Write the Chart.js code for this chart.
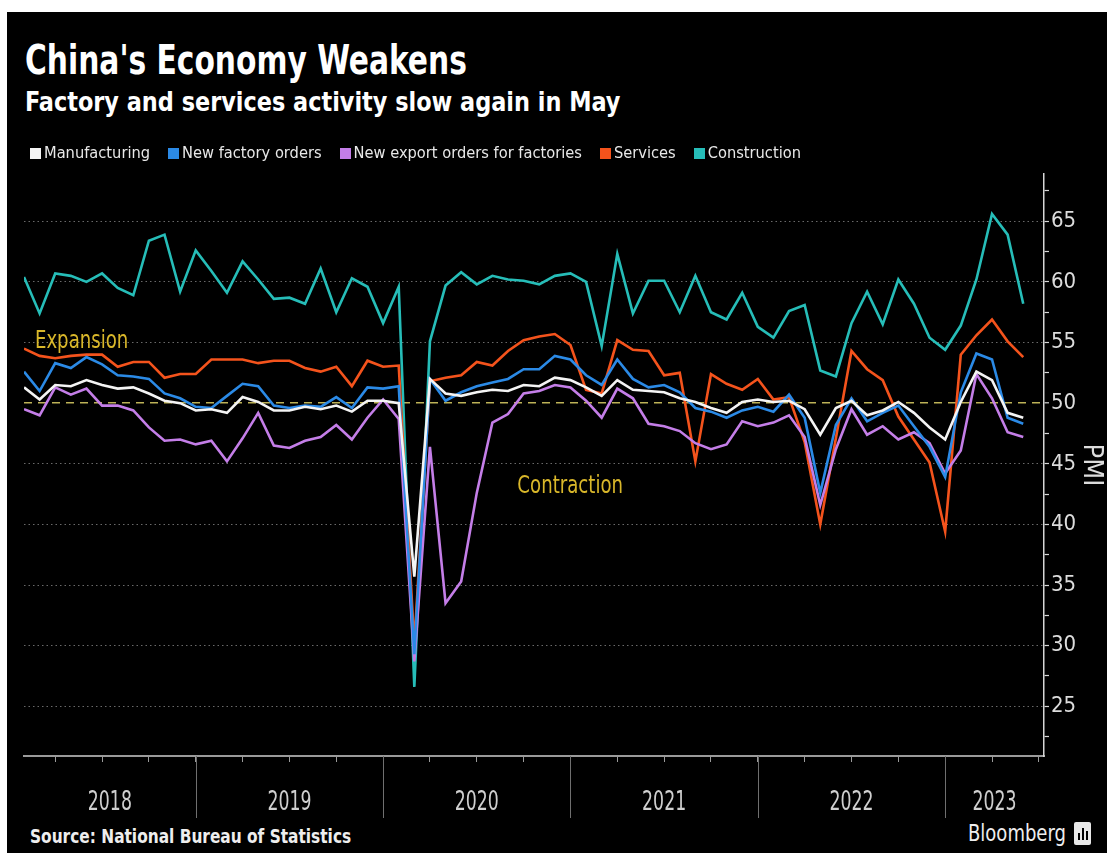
<!DOCTYPE html>
<html>
<head>
<meta charset="utf-8">
<script src="https://cdn.jsdelivr.net/npm/chart.js@4.4.0/dist/chart.umd.min.js"></script>
<style>
  html, body { margin: 0; padding: 0; background: #fff; }
  body { width: 1107px; height: 862px; position: relative; overflow: hidden;
         font-family: "DejaVu Sans Condensed", "DejaVu Sans", sans-serif; }
  #panel { position: absolute; left: 7px; top: 12px; right: 0; bottom: 9px; background: #000; }
  .txt { position: absolute; white-space: nowrap; color: #fff; transform-origin: 0 50%; }
  #title { left: 25px; top: 38px; font-size: 40px; line-height: 44px; font-weight: bold; transform: scaleX(0.826); }
  #subtitle { left: 25px; top: 86px; font-size: 27px; line-height: 32px; font-weight: bold; transform: scaleX(0.922); }
  #source { left: 30px; top: 824px; font-size: 19px; line-height: 24px; font-weight: bold; color: #eee; transform: scaleX(0.9); }
  #brand { left: 968px; top: 819px; font-size: 23px; line-height: 28px; color: #eee; transform: scaleX(0.87); }
  #logo { position: absolute; left: 1074px; top: 822px; width: 17px; height: 23px; background: #e8e8e8; border-radius: 2px; }
  #logo i { position: absolute; bottom: 5px; width: 2px; background: #000; }
  #legend { position: absolute; left: 30px; top: 141px; height: 24px; display: flex; align-items: center; gap: 18px;
            margin: 0; padding: 0; list-style: none; }
  #legend li { display: flex; align-items: center; gap: 3px; font-size: 16.3px; line-height: 24px; color: #e8e8e8; white-space: nowrap; }
  #legend span.box { display: inline-block; width: 11px; height: 11px; }
  #chart { position: absolute; left: 7px; top: 138px; }
</style>
</head>
<body>
<div id="panel"></div>
<div id="title" class="txt">China's Economy Weakens</div>
<div id="subtitle" class="txt">Factory and services activity slow again in May</div>
<canvas id="chart" width="1100" height="680"></canvas>
<ul id="legend"></ul>
<div id="source" class="txt">Source: National Bureau of Statistics</div>
<div id="brand" class="txt">Bloomberg</div>
<div id="logo"><i style="left:4px;height:7px"></i><i style="left:8px;height:12px"></i><i style="left:12px;height:9px"></i></div>
<script>
// Official PMI readings, monthly, January 2018 through May 2023
const years = ['2018', '2019', '2020', '2021', '2022', '2023'];

const manufacturing = [
  51.3, 50.3, 51.5, 51.4, 51.9, 51.5, 51.2, 51.3, 50.8, 50.2, 50.0, 49.4,
  49.5, 49.2, 50.5, 50.1, 49.4, 49.4, 49.7, 49.5, 49.8, 49.3, 50.2, 50.2,
  50.0, 35.7, 52.0, 50.8, 50.6, 50.9, 51.1, 51.0, 51.5, 51.4, 52.1, 51.9,
  51.3, 50.6, 51.9, 51.1, 51.0, 50.9, 50.4, 50.1, 49.6, 49.2, 50.1, 50.3,
  50.1, 50.2, 49.5, 47.4, 49.6, 50.2, 49.0, 49.4, 50.1, 49.2, 48.0, 47.0,
  50.1, 52.6, 51.9, 49.2, 48.8
];
const newFactoryOrders = [
  52.6, 51.0, 53.3, 52.9, 53.8, 53.2, 52.3, 52.2, 52.0, 50.8, 50.4, 49.7,
  49.6, 50.6, 51.6, 51.4, 49.8, 49.6, 49.8, 49.7, 50.5, 49.6, 51.3, 51.2,
  51.4, 29.3, 52.0, 50.2, 50.9, 51.4, 51.7, 52.0, 52.8, 52.8, 53.9, 53.6,
  52.3, 51.5, 53.6, 52.0, 51.3, 51.5, 50.9, 49.6, 49.3, 48.8, 49.4, 49.7,
  49.3, 50.7, 48.8, 42.6, 48.2, 50.4, 48.5, 49.2, 49.8, 48.1, 46.4, 43.9,
  50.9, 54.1, 53.6, 48.8, 48.3
];
const newExportOrders = [
  49.5, 49.0, 51.3, 50.7, 51.2, 49.8, 49.8, 49.4, 48.0, 46.9, 47.0, 46.6,
  46.9, 45.2, 47.1, 49.2, 46.5, 46.3, 46.9, 47.2, 48.2, 47.0, 48.8, 50.3,
  48.7, 28.7, 46.4, 33.5, 35.3, 42.6, 48.4, 49.1, 50.8, 51.0, 51.5, 51.3,
  50.2, 48.8, 51.2, 50.4, 48.3, 48.1, 47.7, 46.7, 46.2, 46.6, 48.5, 48.1,
  48.4, 49.0, 47.2, 41.6, 46.2, 49.5, 47.4, 48.1, 47.0, 47.6, 46.7, 44.2,
  46.1, 52.4, 50.4, 47.6, 47.2
];
const services = [
  54.5, 53.9, 53.7, 53.9, 54.0, 54.0, 53.0, 53.4, 53.4, 52.1, 52.4, 52.4,
  53.6, 53.6, 53.6, 53.3, 53.5, 53.5, 52.9, 52.6, 53.0, 51.4, 53.5, 53.0,
  53.1, 30.1, 51.8, 52.1, 52.3, 53.4, 53.1, 54.3, 55.2, 55.5, 55.7, 54.8,
  51.1, 50.8, 55.2, 54.4, 54.3, 52.3, 52.5, 45.2, 52.4, 51.6, 51.1, 52.0,
  50.3, 50.5, 46.8, 40.0, 47.1, 54.3, 52.8, 51.9, 48.9, 47.0, 45.1, 39.4,
  54.0, 55.6, 56.9, 55.1, 53.8
];
const construction = [
  60.4, 57.4, 60.7, 60.5, 60.0, 60.7, 59.5, 58.9, 63.4, 63.9, 59.2, 62.6,
  60.9, 59.1, 61.7, 60.2, 58.6, 58.7, 58.2, 61.1, 57.5, 60.3, 59.6, 56.6,
  59.6, 26.6, 55.1, 59.7, 60.8, 59.8, 60.5, 60.2, 60.1, 59.8, 60.5, 60.7,
  60.0, 54.7, 62.3, 57.4, 60.1, 60.1, 57.5, 60.5, 57.5, 56.9, 59.1, 56.3,
  55.4, 57.6, 58.1, 52.7, 52.2, 56.6, 59.2, 56.5, 60.2, 58.2, 55.4, 54.4,
  56.4, 60.2, 65.6, 63.9, 58.2
];

const seriesNames = ['Manufacturing', 'New factory orders', 'New export orders for factories', 'Services', 'Construction'];
const seriesColors = ['#f4f4f4', '#2b8ae6', '#c47ee8', '#f4531c', '#26bdb8'];
const seriesValues = [manufacturing, newFactoryOrders, newExportOrders, services, construction];

// PMI axis: labelled every 5 points, small marks in between
const pmiTicks = [22.5, 25, 27.5, 30, 32.5, 35, 37.5, 40, 42.5, 45, 47.5, 50, 52.5, 55, 57.5, 60, 62.5, 65, 67.5];
const threshold = 50;

// Time axis measured in months from 1 Jan 2018; each reading sits at its month end
const firstMonthEnd = 1;
const axisEnd = 66.33;
const quarterTicks = [];
for (let q = 3; q <= 66; q += 3) quarterTicks.push(q);
const yearStarts = years.map((_, k) => k * 12);

const zoneLabels = [
  { text: 'Expansion', x: 1.7, y: 55.1 },
  { text: 'Contraction', x: 32.6, y: 43.1 }
];

const FONT = '"DejaVu Sans Condensed", "DejaVu Sans", sans-serif';
Chart.defaults.font.family = FONT;
Chart.defaults.color = '#dddddd';

const datasets = seriesValues.map((vals, s) => ({
  label: seriesNames[s],
  data: vals.map((v, i) => ({ x: firstMonthEnd + i, y: v })),
  borderColor: seriesColors[s],
  backgroundColor: seriesColors[s],
  borderWidth: 2.6,
  pointRadius: 0,
  tension: 0,
  borderJoinStyle: 'miter'
}));

// Legend rendered as an HTML list from the chart's own legend items
const htmlLegend = {
  id: 'htmlLegend',
  afterUpdate(chart) {
    const list = document.getElementById('legend');
    list.innerHTML = '';
    chart.options.plugins.legend.labels.generateLabels(chart).forEach(item => {
      const li = document.createElement('li');
      const box = document.createElement('span');
      box.className = 'box';
      box.style.background = item.fillStyle;
      const label = document.createElement('span');
      label.textContent = item.text;
      li.appendChild(box);
      li.appendChild(label);
      list.appendChild(li);
    });
  }
};

// Draw text squeezed horizontally, like a condensed face
function condensedText(ctx, text, x, y, squeeze) {
  ctx.save();
  ctx.translate(x, y);
  ctx.scale(squeeze, 1);
  ctx.fillText(text, 0, 0);
  ctx.restore();
}

// Year bands under the time axis: separators and centred year names
const yearBands = {
  id: 'yearBands',
  afterDraw(chart) {
    const { ctx, chartArea, scales: { x } } = chart;
    const base = chartArea.bottom;
    ctx.save();
    ctx.strokeStyle = '#6f6f6f';
    ctx.lineWidth = 1;
    yearStarts.forEach(m => {
      if (m <= x.min || m >= x.max) return;
      const px = Math.round(x.getPixelForValue(m)) + 0.5;
      ctx.beginPath();
      ctx.moveTo(px, base);
      ctx.lineTo(px, base + 62);
      ctx.stroke();
    });
    ctx.fillStyle = '#cfcfcf';
    ctx.font = '26px ' + FONT;
    ctx.textAlign = 'center';
    ctx.textBaseline = 'middle';
    years.forEach((label, k) => {
      const a = Math.max(yearStarts[k], x.min);
      const b = Math.min(yearStarts[k] + 12, x.max);
      condensedText(ctx, label, (x.getPixelForValue(a) + x.getPixelForValue(b)) / 2, base + 47, 0.74);
    });
    ctx.restore();
  }
};

// Expansion / contraction captions placed in data space
const zoneText = {
  id: 'zoneText',
  afterDatasetsDraw(chart) {
    const { ctx, scales: { x, y } } = chart;
    ctx.save();
    ctx.fillStyle = '#d9b72a';
    ctx.font = '24px ' + FONT;
    ctx.textAlign = 'left';
    ctx.textBaseline = 'middle';
    zoneLabels.forEach(z => condensedText(ctx, z.text, x.getPixelForValue(z.x), y.getPixelForValue(z.y), 0.84));
    ctx.restore();
  }
};

new Chart(document.getElementById('chart'), {
  type: 'line',
  data: { datasets },
  plugins: [htmlLegend, yearBands, zoneText],
  options: {
    responsive: false,
    animation: false,
    events: [],
    layout: { padding: { left: 17, right: 0, top: 36, bottom: 0 } },
    plugins: {
      legend: { display: false },
      tooltip: { enabled: false }
    },
    scales: {
      x: {
        type: 'linear',
        min: firstMonthEnd,
        max: axisEnd,
        afterBuildTicks: s => { s.ticks = quarterTicks.map(v => ({ value: v })); },
        afterFit: s => { s.height = 62; },
        ticks: { display: false },
        grid: { drawOnChartArea: false, drawTicks: true, tickLength: 6, tickColor: '#9a9a9a', tickWidth: 1 },
        border: { display: true, color: '#9a9a9a', width: 2 }
      },
      y: {
        position: 'right',
        min: 20.9,
        max: 68.9,
        afterBuildTicks: s => { s.ticks = pmiTicks.map(v => ({ value: v })); },
        afterFit: s => { s.width = 63; },
        ticks: {
          autoSkip: false,
          padding: 2,
          color: '#dcdcdc',
          font: { size: 22 },
          callback: v => (v % 5 === 0 ? String(v) : '')
        },
        grid: {
          drawOnChartArea: true,
          color: c => {
            const v = c.tick ? c.tick.value : null;
            if (v === threshold) return '#bdb257';
            return v !== null && v % 5 === 0 ? 'rgba(150,150,150,0.7)' : 'rgba(0,0,0,0)';
          },
          lineWidth: c => (c.tick && c.tick.value === threshold ? 1.6 : 1),
          tickColor: '#d6d6d6',
          tickLength: 5,
          tickWidth: 1.2
        },
        border: {
          display: true,
          color: '#d6d6d6',
          width: 1.5,
          dash: c => (c.tick && c.tick.value === threshold ? [8, 6] : [1.5, 3])
        },
        title: { display: true, text: 'PMI', color: '#dcdcdc', font: { size: 27 }, padding: { top: 0, bottom: 0 } }
      }
    }
  }
});
</script>
</body>
</html>
